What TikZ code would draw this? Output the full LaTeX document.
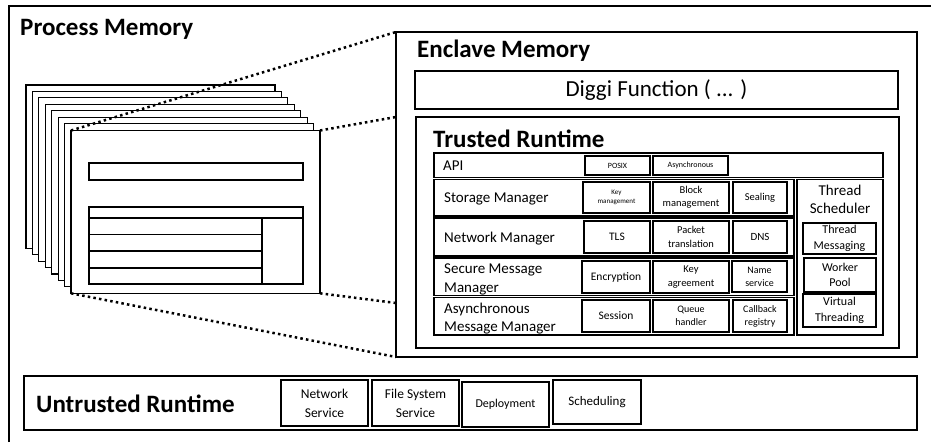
\documentclass[tikz,border=0pt]{standalone}
\usepackage{fontspec}
\setmainfont{Carlito}
\tikzset{
  bx/.style={draw, line width=1.1pt, inner sep=0pt, outer sep=0pt, align=center, fill=white},
  hdr/.style={font=\fontsize{25}{29}\selectfont\bfseries, anchor=base west, inner sep=0pt},
  lbl/.style={font=\fontsize{15}{19}\selectfont, anchor=base west, inner sep=0pt},
  dotline/.style={line width=2.5pt, dash pattern=on 2.5pt off 3.2pt},
  pagebox/.style={draw, line width=1.1pt, fill=white},
  thick2/.style={line width=1.8pt},
}
\newcommand{\fs}[2]{\fontsize{#1}{#2}\selectfont}
\newcommand{\bx}[7][]{\node[bx,#1,minimum width={(#5-#3)*1pt},minimum height={(#6-#4)*1pt}] (#2) at ({(#3+#5)/2},{(#4+#6)/2}) {#7};}
\begin{document}
\begin{tikzpicture}[x=1pt,y=-1pt]
\useasboundingbox (0,0) rectangle (931,442);
% process memory frame
\draw[line width=1.4pt] (9,442) -- (9,6) -- (931,6);
\node[hdr] (pm) at (20,35.5) {Process Memory};

% page stack
\foreach \i in {0,...,6}{
  \draw[pagebox] ({26+6.43*\i},{85+6.43*\i}) rectangle ({275+6.43*\i},{248.3+6.43*\i});
}
\bx{front}{71}{130.5}{320}{293.3}{}
\draw[line width=1.1pt] (89,163) rectangle (303,180);
\draw[line width=1.1pt] (89,207) rectangle (303,284);
\draw[thick2] (89,218) -- (303,218);
\draw[thick2] (89,234.5) -- (262,234.5);
\draw[thick2] (89,251) -- (262,251);
\draw[thick2] (89,268) -- (262,268);
\draw[thick2] (262,218) -- (262,284);

% enclave
\bx[line width=1.4pt]{enclave}{396}{32}{917}{357}{}
\node[hdr] (em) at (417,57.5) {Enclave Memory};
\bx[font=\fs{23}{27}]{diggi}{415}{71}{898}{109}{Diggi Function ( ... )}
\bx{trusted}{416}{117}{899}{348}{}
\node[hdr] (tr) at (433,147.5) {Trusted Runtime};

% rows
\bx{api}{434}{153}{883}{177.5}{}
\node[lbl] (apil) at (443,170) {API};
\bx[font=\fs{8}{10}]{posix}{585}{156}{650}{175}{POSIX}
\bx[font=\fs{8}{10}]{asyn}{653}{156}{728}{175}{Asynchronous}

\bx{stor}{434}{179.5}{794}{216}{}
\node[lbl] (storl) at (444,202) {Storage Manager};
\bx[font=\fs{7}{8.5}]{keym}{583}{182}{650}{213}{Key\\management}
\bx[font=\fs{10.5}{13.5}]{blockm}{653}{182}{729}{213}{Block\\management}
\bx[font=\fs{10.5}{12}]{seal}{733}{182}{787}{213}{Sealing}

\bx{net}{434}{218}{794}{256}{}
\node[lbl] (netl) at (444,242) {Network Manager};
\bx[font=\fs{11.5}{12}]{tls}{584}{221}{650}{253}{TLS}
\bx[font=\fs{10.5}{13.5}]{packet}{653}{221}{729}{253}{Packet\\translation}
\bx[font=\fs{11}{12}]{dns}{733}{221}{787}{253}{DNS}

\bx{sec}{434}{258}{794}{295.5}{}
\node[lbl] (secl1) at (444,273) {Secure Message};
\node[lbl] (secl2) at (444,292) {Manager};
\bx[font=\fs{11.5}{12}]{enc}{582}{261}{650}{293}{Encryption}
\bx[font=\fs{10.5}{13.5}]{keyag}{653}{261}{729}{293}{Key\\agreement}
\bx[font=\fs{10}{13}]{name}{732}{261}{787}{292}{Name\\service}

\bx{asy}{434}{297.5}{794}{335}{}
\node[lbl] (asyl1) at (444,313) {Asynchronous};
\node[lbl] (asyl2) at (444,331) {Message Manager};
\bx[font=\fs{11.5}{12}]{sess}{582}{300}{650}{332}{Session}
\bx[font=\fs{10}{13.5}]{queue}{653}{300}{729}{332}{Queue\\handler}
\bx[font=\fs{10}{13}]{cb}{733}{300}{787}{332}{Callback\\registry}

\bx{ts}{797}{179.5}{883}{335}{}
\node[font=\fs{15}{17}, inner sep=0pt] (tst1) at (840,190) {Thread};
\node[font=\fs{15}{17}, inner sep=0pt] (tst2) at (840,208) {Scheduler};
\bx[font=\fs{12}{15.5}]{tm}{803}{223}{876}{254}{Thread\\Messaging}
\bx[font=\fs{12}{15.5}]{wp}{804}{258}{876}{292}{Worker\\Pool}
\bx[font=\fs{12}{15.5}]{vt}{803}{294}{876}{327}{Virtual\\Threading}

% dotted zoom lines
\coordinate (d2) at (enclave.west |- trusted.north);
\coordinate (d4) at (396,303);
\draw[dotline] (front.north west) -- (enclave.north west);
\draw[dotline] (front.north east) -- (d2);
\draw[dotline] (front.south west) -- (enclave.south west);
\draw[dotline] (front.south east) -- (d4);

% untrusted
\bx[line width=1.3pt]{unt}{24}{376}{917}{430}{}
\node[hdr] (utl) at (36,412) {Untrusted Runtime};
\bx[font=\fs{13.5}{19}]{ns}{281}{380}{368}{426}{Network\\Service}
\bx[font=\fs{13.5}{19}]{fss}{372}{380}{459}{426}{File System\\Service}
\bx[font=\fs{12}{14}]{dep}{462}{382}{549}{427}{Deployment}
\bx[font=\fs{13}{14}]{sch}{553}{380}{641}{424}{Scheduling}
\end{tikzpicture}
\end{document}
